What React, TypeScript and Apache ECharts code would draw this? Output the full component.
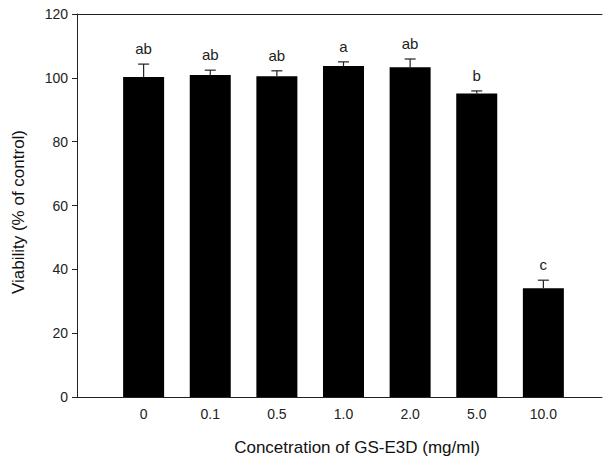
import React, { useEffect, useRef } from "react";
import * as echarts from "echarts";

const categories = ["0", "0.1", "0.5", "1.0", "2.0", "5.0", "10.0"];
const means = [100.3, 100.9, 100.5, 103.7, 103.3, 95.1, 34.1];
const errors = [4.0, 1.5, 1.7, 1.3, 2.6, 0.8, 2.5];
const letters = ["ab", "ab", "ab", "a", "ab", "b", "c"];
const yTicks = [0, 20, 40, 60, 80, 100, 120];

const FONT = "'Liberation Sans', Arial, sans-serif";

export default function App() {
  const ref = useRef<HTMLDivElement>(null);
  useEffect(() => {
    if (!ref.current) return;
    const chart = echarts.init(ref.current, null, { renderer: "svg" });
    const barData = means.map((m, i) => [i, m]);
    const errData = means.map((m, i) => [i, m, m + errors[i]]);
    chart.setOption({
      animation: false,
      backgroundColor: "#ffffff",
      textStyle: { fontFamily: FONT },
      grid: { left: 77, right: 0, top: 14, bottom: 64 },
      xAxis: [
        {
          type: "value",
          min: -1,
          max: 6.88,
          interval: 1,
          splitLine: { show: false },
          axisTick: { show: false },
          axisLine: { show: true, onZero: false, lineStyle: { color: "#222", width: 1 } },
          axisLabel: {
            color: "#222",
            fontSize: 14,
            fontFamily: FONT,
            margin: 10,
            formatter: (v: number) => {
              const i = Math.round(v);
              return Math.abs(v - i) < 1e-6 && i >= 0 && i < categories.length ? categories[i] : "";
            },
          },
        },
        {
          type: "value",
          position: "top",
          min: -1,
          max: 6.88,
          interval: 1,
          splitLine: { show: false },
          axisTick: { show: false },
          axisLabel: { show: false },
          axisLine: { show: true, onZero: false, lineStyle: { color: "#222", width: 1 } },
        },
      ],
      yAxis: {
        type: "value",
        min: 0,
        max: 120,
        interval: 20,
        splitLine: { show: false },
        axisLine: { show: true, onZero: false, lineStyle: { color: "#222", width: 1 } },
        axisTick: { show: true, inside: false, length: 5, lineStyle: { color: "#222" } },
        axisLabel: {
          color: "#222",
          fontSize: 14,
          fontFamily: FONT,
          margin: 9,
          formatter: (v: number) => (yTicks.includes(v) ? String(v) : ""),
        },
      },
      series: [
        {
          type: "bar",
          data: barData,
          barWidth: 41,
          itemStyle: { color: "#000000" },
          z: 2,
        },
        {
          type: "custom",
          data: errData,
          z: 3,
          renderItem: (params: any, api: any) => {
            const x = api.value(0);
            const lo = api.coord([x, api.value(1)]);
            const hi = api.coord([x, api.value(2)]);
            const cap = 5.5;
            return {
              type: "group",
              children: [
                {
                  type: "line",
                  shape: { x1: lo[0], y1: lo[1], x2: hi[0], y2: hi[1] },
                  style: { stroke: "#222", lineWidth: 1.2 },
                },
                {
                  type: "line",
                  shape: { x1: hi[0] - cap, y1: hi[1], x2: hi[0] + cap, y2: hi[1] },
                  style: { stroke: "#222", lineWidth: 1.2 },
                },
                {
                  type: "text",
                  x: hi[0],
                  y: hi[1] - 8,
                  style: {
                    text: letters[params.dataIndex],
                    fill: "#222",
                    font: `15px ${FONT}`,
                    textAlign: "center",
                    textVerticalAlign: "bottom",
                  },
                },
              ],
            };
          },
        },
      ],
      graphic: [
        {
          type: "text",
          x: 357,
          y: 447,
          style: {
            text: "Concetration of GS-E3D (mg/ml)",
            fill: "#111",
            font: `17px ${FONT}`,
            textAlign: "center",
            textVerticalAlign: "middle",
          },
        },
        {
          type: "text",
          x: 18,
          y: 212,
          rotation: Math.PI / 2,
          style: {
            text: "Viability (% of control)",
            fill: "#111",
            font: `17px ${FONT}`,
            textAlign: "center",
            textVerticalAlign: "middle",
          },
        },
      ],
    });
    return () => chart.dispose();
  }, []);
  return (
    <div
      ref={ref}
      style={{ position: "absolute", left: 0, top: 0, width: 605, height: 461 }}
    />
  );
}
